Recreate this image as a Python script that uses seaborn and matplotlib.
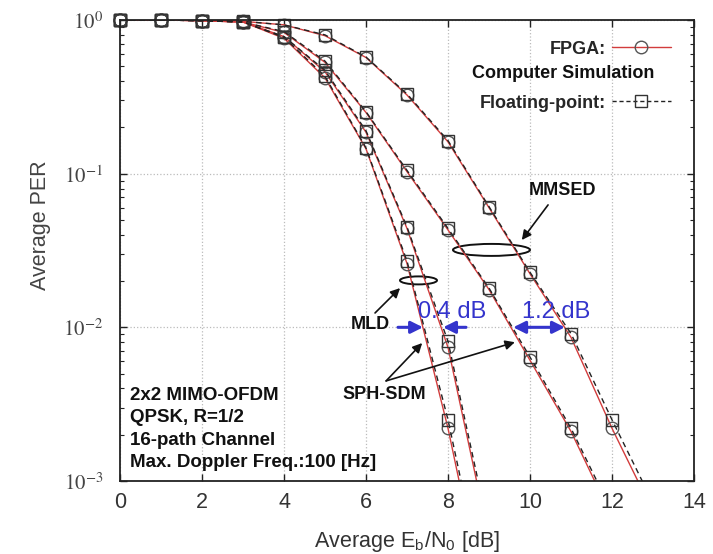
import matplotlib
matplotlib.use('Agg')
import matplotlib.pyplot as plt
from matplotlib.lines import Line2D
from matplotlib.patches import Ellipse
from matplotlib.transforms import ScaledTranslation
from matplotlib.ticker import NullFormatter, FixedLocator
import pandas as pd
import seaborn as sns

# Eb/N0 tacke [dB]
snr = list(range(14))

# Floating-point (racunarska simulacija) - kvadrati, crna isprekidana
per_mld_float = [1.0, 1.0, 0.99, 0.97, 0.77, 0.43, 0.147, 0.027, 0.0025, 0.00014]
per_sph_mld_float = [1.0, 1.0, 0.99, 0.97, 0.78, 0.47, 0.19, 0.045, 0.0081, 0.00047]
per_sph_mmse_float = [1.0, 1.0, 0.99, 0.97, 0.84, 0.54, 0.253, 0.105, 0.044, 0.018, 0.0064, 0.0022, 0.00063]
per_mmsed_float = [1.0, 1.0, 0.99, 0.98, 0.93, 0.80, 0.574, 0.33, 0.164, 0.061, 0.0228, 0.0091, 0.0025, 0.00072]

# FPGA - krugovi, crvena puna linija
per_mld_fpga = [1.0, 1.0, 0.99, 0.97, 0.76, 0.42, 0.145, 0.026, 0.0022, 0.00012]
per_sph_mld_fpga = [1.0, 1.0, 0.99, 0.97, 0.78, 0.46, 0.186, 0.044, 0.0074, 0.00042]
per_sph_mmse_fpga = [1.0, 1.0, 0.99, 0.97, 0.83, 0.53, 0.25, 0.103, 0.043, 0.0176, 0.0061, 0.0021, 0.00058]
per_mmsed_fpga = [1.0, 1.0, 0.99, 0.98, 0.93, 0.79, 0.57, 0.325, 0.161, 0.06, 0.0223, 0.0086, 0.0022, 0.00063]

schemes = ['MLD', 'SPH-SDM (MLD)', 'SPH-SDM (MMSE)', 'MMSED']
float_data = [per_mld_float, per_sph_mld_float, per_sph_mmse_float, per_mmsed_float]
fpga_data = [per_mld_fpga, per_sph_mld_fpga, per_sph_mmse_fpga, per_mmsed_fpga]

y_ticks = [1e-3, 1e-2, 1e-1, 1.0]
y_ticklabels = [r'$10^{-3}$', r'$10^{-2}$', r'$10^{-1}$', r'$10^{0}$']
x_ticks = [0, 2, 4, 6, 8, 10, 12, 14]

rows = []
for name, fl, fp in zip(schemes, float_data, fpga_data):
    for x, a in zip(snr, fl):
        rows.append({'snr': x, 'per': a, 'scheme': name, 'impl': 'float'})
    for x, b in zip(snr, fp):
        rows.append({'snr': x, 'per': b, 'scheme': name, 'impl': 'fpga'})
df = pd.DataFrame(rows)

sns.set_theme(style='ticks')
plt.rcParams['font.family'] = ['Liberation Sans', 'DejaVu Sans']
plt.rcParams['mathtext.fontset'] = 'stix'

RED = '#d23c3c'
BLUE = '#3434cc'

fig, ax = plt.subplots(figsize=(7.13, 5.54), dpi=100)
fig.subplots_adjust(left=0.1683, right=0.9734, top=0.9639, bottom=0.1318)
ax.set_yscale('log')

styles = {
    'fpga': dict(color=RED, ls='-', marker='o', ms=9, mec='#555555'),
    'float': dict(color='#222222', ls=(0, (4, 3)), marker='s', ms=9, mec='#333333'),
}

for impl in ['fpga', 'float']:
    st = styles[impl]
    sub = df[df['impl'] == impl]
    # linije (odsecene na ivici grafika)
    sns.lineplot(data=sub, x='snr', y='per', units='scheme', estimator=None,
                 color=st['color'], linestyle=st['ls'], lw=1.0, ax=ax, legend=False)
    # markeri, samo unutar opsega, bez odsecanja na vrhu
    vis = sub[sub['per'] >= 1e-3]
    sns.lineplot(data=vis, x='snr', y='per', units='scheme', estimator=None,
                 linestyle='none', marker=st['marker'], markersize=st['ms'],
                 markerfacecolor='none', markeredgecolor=st['mec'], markeredgewidth=1.0,
                 clip_on=False, ax=ax, legend=False)

ax.set_xlim(0, 14)
ax.set_ylim(1e-3, 1.0)
ax.set_xticks(x_ticks)
ax.set_xticklabels([str(t) for t in x_ticks], fontsize=15.5, color='#333333')
ax.yaxis.set_major_locator(FixedLocator(y_ticks))
ax.set_yticklabels(y_ticklabels, fontsize=15, color='#444444')
ax.yaxis.set_minor_formatter(NullFormatter())

ax.tick_params(axis='both', which='major', direction='in', length=5, width=1.0,
               top=True, right=True, color='#222222')
ax.tick_params(axis='x', which='major', pad=8)
ax.tick_params(axis='y', which='major', pad=12)
ax.tick_params(axis='y', which='minor', direction='in', length=3, width=0.8,
               left=True, right=True, color='#222222')
ax.tick_params(axis='x', which='minor', bottom=False, top=False)

ax.grid(True, which='major', color='#bbbbbb', linestyle=':', linewidth=0.9)
for sp in ax.spines.values():
    sp.set_linewidth(1.3)
    sp.set_color('#222222')

ax.set_xlabel(r'Average E$_{\mathdefault{b}}$/N$_{\mathdefault{0}}$ [dB]', fontsize=15.5, color='#333333')
ax.set_ylabel('Average PER', fontsize=15.5, color='#444444')
ax.xaxis.set_label_coords(0.5, -0.105)
ax.yaxis.set_label_coords(-0.12, 0.555)

# legenda
h_fpga = Line2D([], [], color=RED, lw=1.0, marker='o', ms=9, mfc='none', mec='#555555')
h_float = Line2D([], [], color='#222222', ls=(0, (3, 2)), lw=1.0, marker='s', ms=9, mfc='none', mec='#333333')
leg = ax.legend([h_fpga, h_float], ['FPGA:', 'Floating-point:'], loc='upper right',
                bbox_to_anchor=(0.976, 0.975), frameon=False, markerfirst=False,
                handlelength=3.3, handletextpad=0.3, labelspacing=2.05, borderpad=0,
                prop={'weight': 'bold', 'size': 13})
ax.text(0.772, 0.883, 'Computer Simulation', transform=ax.transAxes, ha='center', va='center',
        fontsize=13, fontweight='bold', color='#111111')

# elipse oko grupa krivih (velicina u incima, centar u podacima)
def add_ellipse(x, y, w, h):
    tr = fig.dpi_scale_trans + ScaledTranslation(x, y, ax.transData)
    ax.add_patch(Ellipse((0, 0), w, h, transform=tr, fill=False, ec='#111111', lw=1.4, clip_on=False))

add_ellipse(7.28, 0.0202, 0.37, 0.08)
add_ellipse(9.06, 0.0319, 0.77, 0.12)

txt = dict(fontsize=13, fontweight='bold', color='#111111', ha='center', va='center')
black_arrow = dict(arrowstyle='-|>', color='#111111', lw=1.2, mutation_scale=14, shrinkA=0, shrinkB=0)
ax.text(10.8, 0.078, 'MMSED', **txt)
ax.annotate('', xy=(9.8, 0.037), xytext=(10.44, 0.0626), arrowprops=black_arrow)
ax.text(6.10, 0.0104, 'MLD', **txt)
ax.annotate('', xy=(6.83, 0.018), xytext=(6.22, 0.0124), arrowprops=black_arrow)
ax.text(6.44, 0.00363, 'SPH-SDM', **txt)
ax.annotate('', xy=(7.37, 0.0079), xytext=(6.49, 0.00448), arrowprops=black_arrow)
ax.annotate('', xy=(9.63, 0.0080), xytext=(6.49, 0.00448), arrowprops=black_arrow)

# razlike u dB (plavo)
blue_arrow = dict(arrowstyle='-|>', color=BLUE, lw=2.2, mutation_scale=18, shrinkA=0, shrinkB=0)
ax.text(8.10, 0.0126, '0.4 dB', fontsize=17, color=BLUE, ha='center', va='center')
ax.text(10.63, 0.0126, '1.2 dB', fontsize=17, color=BLUE, ha='center', va='center')
ax.annotate('', xy=(7.39, 0.01), xytext=(6.78, 0.01), arrowprops=blue_arrow)
ax.annotate('', xy=(7.88, 0.01), xytext=(8.44, 0.01), arrowprops=blue_arrow)
ax.annotate('', xy=(10.85, 0.01), xytext=(9.59, 0.01),
            arrowprops=dict(blue_arrow, arrowstyle='<|-|>'))

# parametri simulacije
info = ['2x2 MIMO-OFDM', 'QPSK, R=1/2', '16-path Channel', 'Max. Doppler Freq.:100 [Hz]']
for i, line in enumerate(info):
    ax.text(0.0174, 0.186 - i * 0.0488, line, transform=ax.transAxes, ha='left', va='center',
            fontsize=13.5, fontweight='bold', color='#111111')

plt.savefig('out.png', dpi=100)
